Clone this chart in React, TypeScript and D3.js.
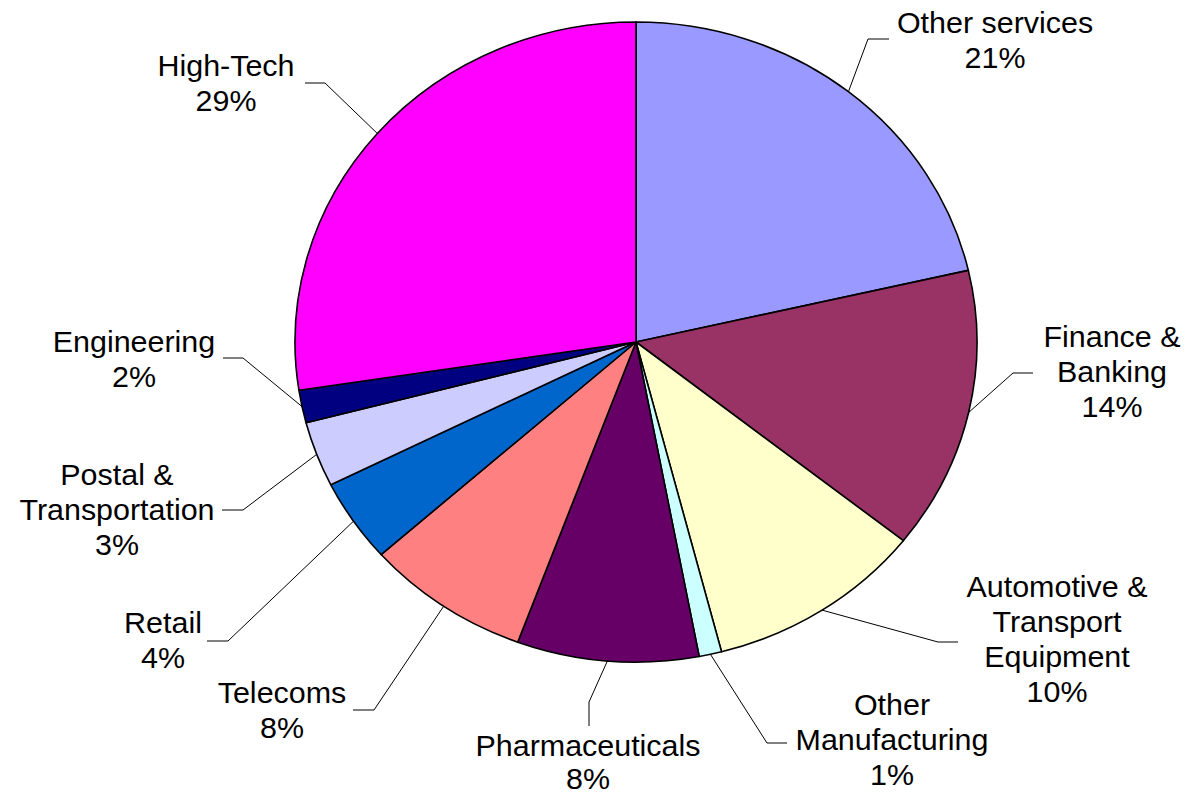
import React from "react";
import * as d3 from "d3";

const categories = [
  "Other services",
  "Finance & Banking",
  "Automotive & Transport Equipment",
  "Other Manufacturing",
  "Pharmaceuticals",
  "Telecoms",
  "Retail",
  "Postal & Transportation",
  "Engineering",
  "High-Tech",
];
// slice sizes (share of total)
const shares = [21.4, 14.25, 10.3, 1.07, 8.6, 7.8, 4.2, 3.3, 1.65, 27.4];
// percentage texts as printed on the labels
const percentLabels = ["21%", "14%", "10%", "1%", "8%", "8%", "4%", "3%", "2%", "29%"];
const labelLines = [
  ["Other services"],
  ["Finance &", "Banking"],
  ["Automotive &", "Transport", "Equipment"],
  ["Other", "Manufacturing"],
  ["Pharmaceuticals"],
  ["Telecoms"],
  ["Retail"],
  ["Postal &", "Transportation"],
  ["Engineering"],
  ["High-Tech"],
];
const colors = [
  "#9999FF",
  "#993366",
  "#FFFFCC",
  "#CCFFFF",
  "#660066",
  "#FF8080",
  "#0066CC",
  "#CCCCFF",
  "#000080",
  "#FF00FF",
];

// layout (not data): label text centre, first baseline, leader elbow and end
const labelLayout = [
  { cx: 995, y: 33, lh: 35, elbow: [868, 39], end: [889, 39] },
  { cx: 1112, y: 347, lh: 35, elbow: [1013, 373], end: [1033, 373] },
  { cx: 1057, y: 597, lh: 35, elbow: [938, 642], end: [958, 642] },
  { cx: 892, y: 715, lh: 35, elbow: [767, 743], end: [787, 743] },
  { cx: 588, y: 756, lh: 33, elbow: [589, 702], end: [589, 726] },
  { cx: 282, y: 703, lh: 35, elbow: [374, 710], end: [353, 710] },
  { cx: 163, y: 633, lh: 35, elbow: [228, 641], end: [207, 641] },
  { cx: 117, y: 485, lh: 35, elbow: [243, 510], end: [222, 510] },
  { cx: 134, y: 352, lh: 35, elbow: [243, 358], end: [223, 358] },
  { cx: 226, y: 76, lh: 35, elbow: [325, 83], end: [305, 83] },
];

const W = 1184;
const H = 796;
const CX = 636;
const CY = 342;
const RX = 341;
const RY = 320;
const SX = RX / RY;
const FONT = "'Liberation Sans', Arial, Helvetica, sans-serif";

export default function App() {
  const pie = d3
    .pie<number>()
    .sort(null)
    .value((d) => d)
    .startAngle(0)
    .endAngle(2 * Math.PI);
  const arcs = pie(shares);
  const arc = d3.arc<d3.PieArcDatum<number>>().innerRadius(0).outerRadius(RY);

  return (
    <svg
      width={W}
      height={H}
      style={{ position: "absolute", left: 0, top: 0, background: "#fff" }}
    >
      <g transform={`translate(${CX},${CY}) scale(${SX},1)`}>
        {arcs.map((a, i) => (
          <path
            key={i}
            d={arc(a) || ""}
            fill={colors[i]}
            stroke="#000"
            strokeWidth={1.6}
            strokeLinejoin="round"
            vectorEffect="non-scaling-stroke"
          />
        ))}
      </g>
      {arcs.map((a, i) => {
        const mid = (a.startAngle + a.endAngle) / 2;
        const px = CX + RX * Math.sin(mid);
        const py = CY - RY * Math.cos(mid);
        const L = labelLayout[i];
        const pts = [[px, py], L.elbow, L.end];
        const line = d3.line()(pts as [number, number][]) || "";
        return (
          <path key={`l${i}`} d={line} fill="none" stroke="#000" strokeWidth={1} />
        );
      })}
      {categories.map((c, i) => {
        const L = labelLayout[i];
        const lines = [...labelLines[i], percentLabels[i]];
        return (
          <g key={`t${i}`} transform={`translate(${L.cx},${L.y}) scale(${1.05},1)`}>
            <text textAnchor="middle" fontFamily={FONT} fontSize={29} fill="#000">
              {lines.map((t, j) => (
                <tspan key={j} x={0} y={j * L.lh}>
                  {t}
                </tspan>
              ))}
            </text>
          </g>
        );
      })}
    </svg>
  );
}
